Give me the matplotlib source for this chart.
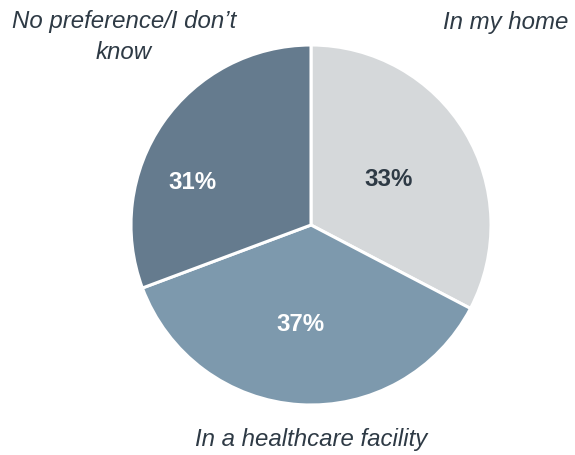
import matplotlib
matplotlib.use("Agg")
import matplotlib.pyplot as plt

categories = ["In my home", "In a healthcare facility", "No preference/I don\u2019t\nknow"]
values = [33, 37, 31]
pct_labels = ["33%", "37%", "31%"]
colors = ["#d5d8da", "#7d99ad", "#657b8e"]
pct_colors = ["#2e3a45", "white", "white"]

W, H = 575, 456
fig = plt.figure(figsize=(W / 100, H / 100), dpi=100)
cx, cy, R = 311, 230, 180
ax = fig.add_axes([(cx - R) / W, (cy - R) / H, 2 * R / W, 2 * R / H])
wedges, _ = ax.pie(values, colors=colors, startangle=90, counterclock=False,
                   radius=1, wedgeprops=dict(edgecolor="white", linewidth=2.2))
ax.set_xlim(-1.0, 1.0)
ax.set_ylim(-1.0, 1.0)
ax.set_aspect("equal")
ax.axis("off")

font = "Liberation Sans"
# percentage label positions (pie units)
pct_pos = [(0.43, 0.26), (-0.06, -0.55), (-0.66, 0.24)]
for lab, (x, y), c in zip(pct_labels, pct_pos, pct_colors):
    ax.text(x, y, lab, ha="center", va="center", fontsize=17.3, fontweight="bold",
            color=c, family=font)

txt_color = "#2e3a45"
cat_pos = [(506, 23), (311, 440), (124, 37)]
for lab, (x, y) in zip(categories, cat_pos):
    fig.text(x / W, 1 - y / H, lab, ha="center", va="center", fontsize=17.3,
             style="italic", color=txt_color, family=font, linespacing=1.4)

fig.savefig("out.png", dpi=100, facecolor="white")
